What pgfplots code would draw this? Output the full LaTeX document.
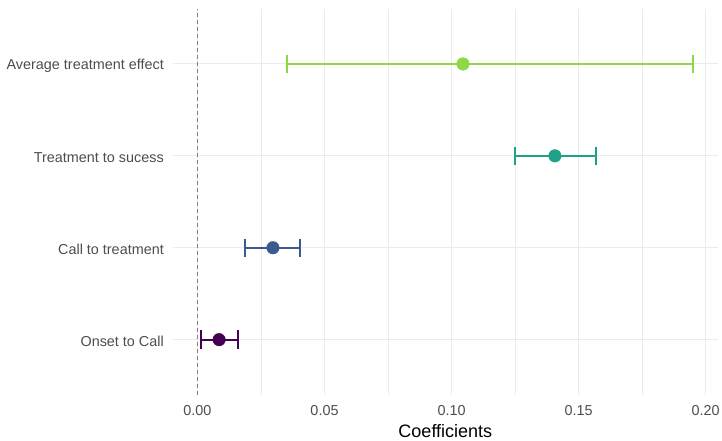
\documentclass[border=0pt]{standalone}
\usepackage{fontspec}
\setmainfont{Liberation Sans}
\usepackage{pgfplots}
\pgfplotsset{compat=1.18}
\definecolor{cOnset}{HTML}{440154}
\definecolor{cCall}{HTML}{3B5A8E}
\definecolor{cTreat}{HTML}{21A089}
\definecolor{cAte}{HTML}{8FD744}
\definecolor{gridc}{HTML}{EBEBEB}
\definecolor{tickc}{HTML}{4D4D4D}
\begin{document}
\begin{tikzpicture}
\begin{axis}[
  scale only axis,
  width=545.3pt, height=386pt,
  xmin=-0.00976, xmax=0.2049,
  ymin=-0.6, ymax=3.6,
  axis line style={draw=none},
  major tick length=0pt, minor tick length=0pt,
  xtick={0,0.05,0.1,0.15,0.2},
  minor xtick={0.025,0.075,0.125,0.175},
  xticklabels={0.00,0.05,0.10,0.15,0.20},
  ytick={0,1,2,3},
  yticklabels={Onset to Call,Call to treatment,Treatment to sucess,Average treatment effect},
  xmajorgrids, xminorgrids, ymajorgrids,
  major grid style={gridc, line width=1pt},
  minor grid style={gridc, line width=0.6pt},
  every tick label/.append style={inner sep=0pt, text=tickc, font=\fontsize{14.4}{17}\selectfont},
  yticklabel style={anchor=east, xshift=-8.7pt, yshift=-2pt},
  xticklabel style={anchor=north, yshift=-10pt},
  /pgf/number format/assume math mode=true,
  xlabel={Coefficients},
  xlabel style={at={(rel axis cs:0.5,0)}, anchor=north, yshift=-29pt, inner sep=0pt, font=\fontsize{18}{21}\selectfont},
  clip=false,
]
\addplot[gray, line width=0.8pt, dash pattern=on 4pt off 3pt, forget plot] coordinates {(0,-0.6) (0,3.6)};
% error bars (low, high) and points
\addplot[cOnset, line width=1.7pt, mark=none, error bars/.cd, x dir=both, x explicit, error bar style={line width=1.7pt}, error mark options={mark size=9.2pt, line width=1.7pt, rotate=90}]
  coordinates {(0.0085,0) += (0.0074,0) -= (0.0071,0)};
\addplot[cCall, line width=1.7pt, mark=none, error bars/.cd, x dir=both, x explicit, error bar style={line width=1.7pt}, error mark options={mark size=9.2pt, line width=1.7pt, rotate=90}]
  coordinates {(0.0297,1) += (0.0107,0) -= (0.0110,0)};
\addplot[cTreat, line width=1.7pt, mark=none, error bars/.cd, x dir=both, x explicit, error bar style={line width=1.7pt}, error mark options={mark size=9.2pt, line width=1.7pt, rotate=90}]
  coordinates {(0.1407,2) += (0.0162,0) -= (0.0157,0)};
\addplot[cAte, line width=1.7pt, mark=none, error bars/.cd, x dir=both, x explicit, error bar style={line width=1.7pt}, error mark options={mark size=9.2pt, line width=1.7pt, rotate=90}]
  coordinates {(0.1045,3) += (0.0906,0) -= (0.0693,0)};
\addplot[only marks, mark=*, mark size=6.3pt, cOnset] coordinates {(0.0085,0)};
\addplot[only marks, mark=*, mark size=6.3pt, cCall] coordinates {(0.0297,1)};
\addplot[only marks, mark=*, mark size=6.3pt, cTreat] coordinates {(0.1407,2)};
\addplot[only marks, mark=*, mark size=6.3pt, cAte] coordinates {(0.1045,3)};
\end{axis}
\pgfresetboundingbox
\path (-172.7pt,-46pt) rectangle (549.3pt,394.8pt);
\end{tikzpicture}
\end{document}
